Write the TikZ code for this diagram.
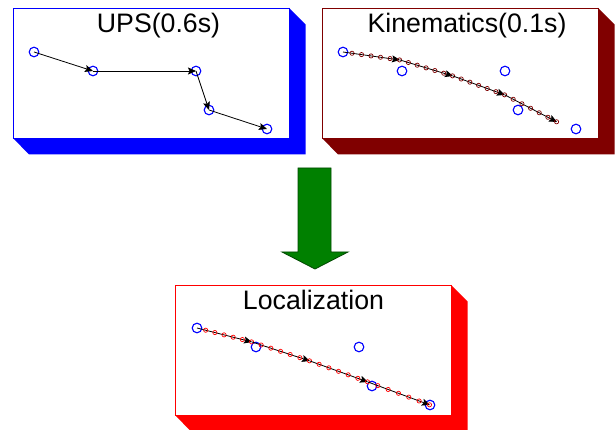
\documentclass[tikz,border=0pt]{standalone}
\usepackage{fontspec}
\setmainfont{Liberation Sans}
\usetikzlibrary{arrows.meta}
\definecolor{upsblue}{RGB}{0,0,255}
\definecolor{kinred}{RGB}{128,0,0}
\definecolor{locred}{RGB}{255,0,0}
\definecolor{arrgreen}{RGB}{0,128,0}
\definecolor{arrdark}{RGB}{0,72,0}
\newcommand\panelthreed[5]{%
  \fill[#5] (#1,#4) -- (#1+16,#4+16.5) -- (#3+16.5,#4+16.5) -- (#3+16.5,#2+16.5) -- (#3,#2) -- cycle;
  \draw[#5,line width=0.8pt,fill=white] (#1,#2) rectangle (#3,#4);}
% one arrowed stretch of a trail, with six small circles on it
\newcommand\trailpart[3]{%
  \draw[seg] (#1) -- (#2);
  \foreach \t in {0.158,0.325,0.492,0.658,0.825,0.992}
    \path (#1) -- (#2) node[dotc=#3,pos=\t] {};}
\begin{document}
\begin{tikzpicture}[x=1pt,y=-1pt,
  bpt/.style={circle,draw=upsblue,line width=1.1pt,minimum size=9.6pt,inner sep=0pt},
  dotc/.style={circle,draw=#1,line width=0.7pt,minimum size=4.2pt,inner sep=0pt},
  seg/.style={draw=black,line width=0.8pt,-{Stealth[length=8pt,width=7pt,inset=1.5pt]}},
  title/.style={font=\fontsize{26.7}{30}\selectfont,anchor=base,inner sep=0pt},
  ]
\useasboundingbox (0,0) rectangle (616,430);

% panels
\panelthreed{13}{8}{289}{138}{upsblue}
\panelthreed{322}{8}{598}{138}{kinred}
\panelthreed{175}{285}{451}{415}{locred}

% titles
\node[title] (tu) at (158.5,33) {UPS(0.6s)};
\node[title] (tk) at (467,33) {Kinematics(0.1s)};
\node[title] (tl) at (313.5,310) {Localization};

% UPS
\node[bpt] (u1) at (34,52) {};
\node[bpt] (u2) at (93,71) {};
\node[bpt] (u3) at (196,71) {};
\node[bpt] (u4) at (209,110) {};
\node[bpt] (u5) at (267,129) {};
\draw[seg] (u1.center) -- (u2.center);
\draw[seg] (u2.center) -- (u3.center);
\draw[seg] (u3.center) -- (u4.center);
\draw[seg] (u4.center) -- (u5.center);

% Kinematics
\node[bpt] (k1) at (343,52) {};
\node[bpt] (k2) at (402,71) {};
\node[bpt] (k3) at (505,71) {};
\node[bpt] (k4) at (518,110) {};
\node[bpt] (k5) at (576,129) {};
\coordinate (kp1) at (400,60);
\coordinate (kp2) at (453,76);
\coordinate (kp3) at (505,95);
\coordinate (kp4) at (557,122);
\trailpart{k1.center}{kp1}{kinred}
\trailpart{kp1}{kp2}{kinred}
\trailpart{kp2}{kp3}{kinred}
\trailpart{kp3}{kp4}{kinred}

% Localization
\node[bpt] (l1) at (197,328) {};
\node[bpt] (l2) at (256,347) {};
\node[bpt] (l3) at (359,347) {};
\node[bpt] (l4) at (372,386) {};
\node[bpt] (l5) at (430,405) {};
\coordinate (lp1) at (252,342);
\coordinate (lp2) at (310,361);
\coordinate (lp3) at (368,382);
\trailpart{l1.center}{lp1}{locred}
\trailpart{lp1}{lp2}{locred}
\trailpart{lp2}{lp3}{locred}
\trailpart{lp3}{l5.center}{locred}

% big arrow
\draw[fill=arrgreen,draw=arrdark,line width=0.8pt] (298,168) -- (331,168) -- (331,252) -- (348,252) -- (315,269) -- (282,252) -- (298,252) -- cycle;
\end{tikzpicture}
\end{document}
